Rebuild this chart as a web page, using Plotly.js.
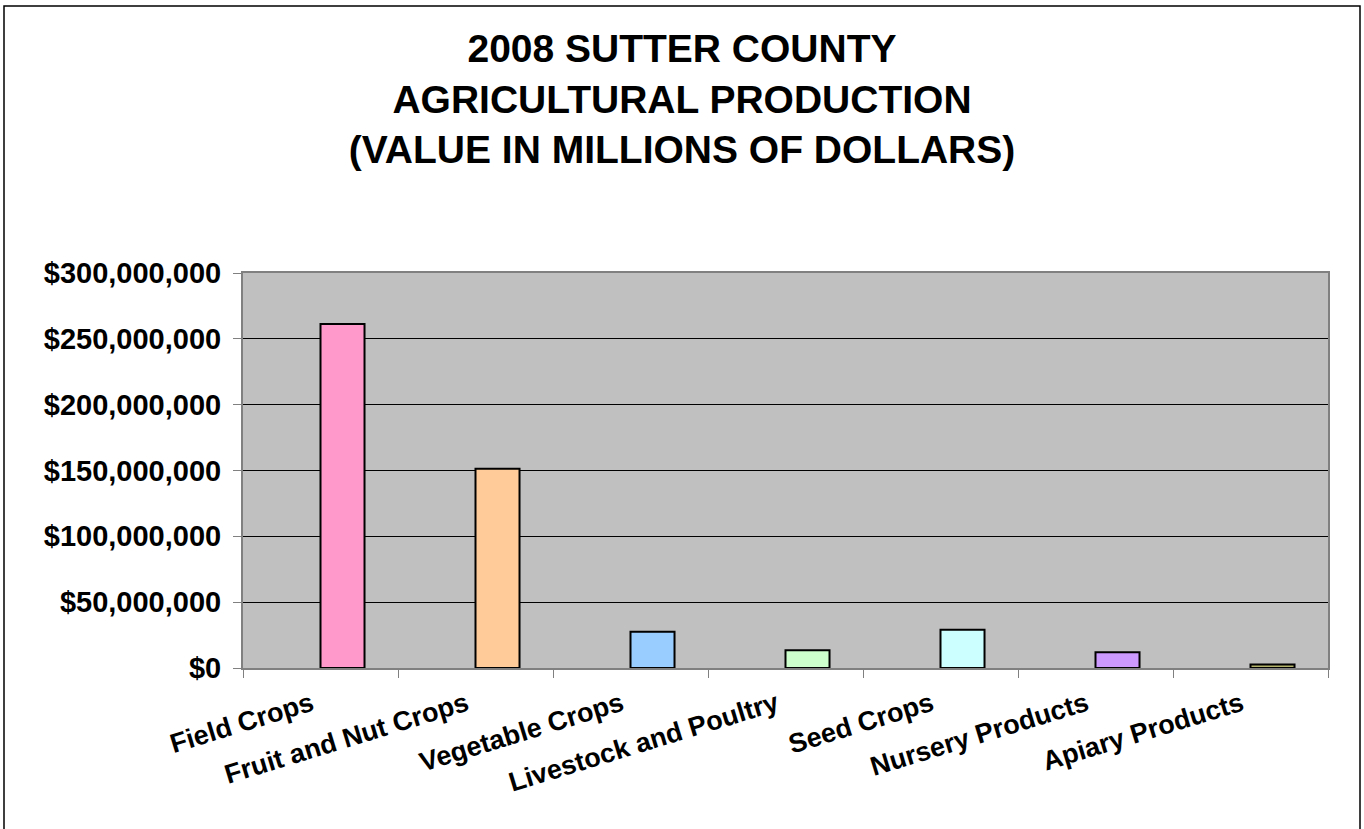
<!DOCTYPE html>
<html>
<head>
<meta charset="utf-8">
<script src="https://cdn.plot.ly/plotly-3.0.1.min.js"></script>
<style>
html, body { margin: 0; padding: 0; background: #ffffff; }
#chart { width: 1364px; height: 829px; }
</style>
</head>
<body>
<div id="chart"></div>
<script>
var categories = ["Field Crops", "Fruit and Nut Crops", "Vegetable Crops", "Livestock and Poultry", "Seed Crops", "Nursery Products", "Apiary Products"];
var values = [261300000, 151400000, 27600000, 13400000, 29100000, 11900000, 2700000];
var barColors = ["#FF99CC", "#FFCC99", "#99CCFF", "#CCFFCC", "#CCFFFF", "#CC99FF", "#B3B36B"];
var titleLines = ["2008 SUTTER COUNTY", "AGRICULTURAL PRODUCTION", "(VALUE IN MILLIONS OF DOLLARS)"];

var W = 1364, H = 829;
var L = 243, R = 36, T = 273, B = 161;
var pw = W - L - R, ph = H - T - B;
function px2x(px) { return (px - L) / pw; }
function py2y(py) { return (H - B - py) / ph; }

var trace = {
  type: "bar",
  x: categories,
  y: values,
  width: 0.284,
  offset: 0,
  marker: { color: barColors, line: { color: "#000000", width: 2 } },
  hoverinfo: "x+y"
};

var layout = {
  width: W, height: H,
  margin: { l: L, r: R, t: T, b: B, pad: 0 },
  paper_bgcolor: "#ffffff",
  plot_bgcolor: "#C0C0C0",
  showlegend: false,
  font: { family: "Liberation Sans, Arial, sans-serif", color: "#000000" },
  title: {
    text: titleLines.join("<br>"),
    font: { family: "Liberation Sans, Arial, sans-serif", size: 39, color: "#000000", weight: "bold" },
    x: 0.5, xref: "container", xanchor: "center",
    y: 1 - 62 / H, yref: "container", yanchor: "middle"
  },
  xaxis: {
    type: "category",
    tickson: "boundaries",
    ticks: "outside", ticklen: 8, tickcolor: "#808080", tickwidth: 1,
    tickangle: -17,
    tickfont: { size: 27, weight: "bold", color: "#000000" },
    ticklabelstandoff: 8,
    ticklabelshift: -9,
    showline: true, linecolor: "#808080", linewidth: 2, mirror: true,
    showgrid: false, zeroline: false, fixedrange: true
  },
  yaxis: {
    range: [0, 300000000],
    dtick: 50000000, tick0: 0,
    tickprefix: "$", tickformat: ",.0f",
    ticks: "outside", ticklen: 8, tickcolor: "#808080", tickwidth: 1,
    tickfont: { size: 29, weight: "bold", color: "#000000" },
    ticklabelstandoff: 6,
    showline: true, linecolor: "#808080", linewidth: 2, mirror: true,
    showgrid: true, gridcolor: "#000000", gridwidth: 1,
    zeroline: false, fixedrange: true
  },
  shapes: [{
    type: "rect", xref: "paper", yref: "paper",
    x0: px2x(4), x1: px2x(1360), y0: py2y(840), y1: py2y(6),
    line: { color: "#000000", width: 1.5 }, fillcolor: "rgba(0,0,0,0)",
    layer: "below"
  }]
};

Plotly.newPlot("chart", [trace], layout, { displayModeBar: false, staticPlot: true });
</script>
</body>
</html>
